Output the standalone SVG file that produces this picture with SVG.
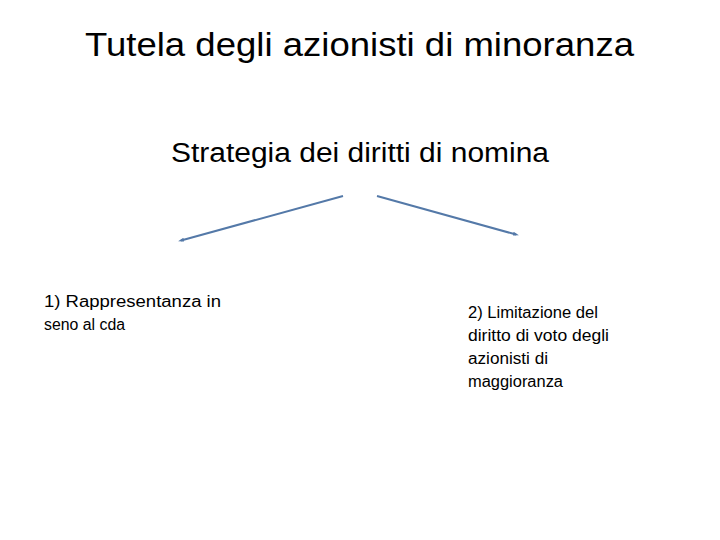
<svg xmlns="http://www.w3.org/2000/svg" width="720" height="540" viewBox="0 0 720 540">
<style>
.t{font-family:"Liberation Sans",Arial,sans-serif;fill:#000}
.s{font-size:16px}
.c{stroke:#5479a8;stroke-width:2;fill:none;marker-end:url(#a)}
</style>
<defs>
<marker id="a" markerWidth="6" markerHeight="5" refX="3" refY="2.5" orient="auto" markerUnits="userSpaceOnUse"><path d="M0,0.5L6,2.5L0,4.5z" fill="#5479a8"/></marker>
</defs>
<rect width="720" height="540" fill="#fff"/>
<g id="title"><text class="t" x="85" y="56" font-size="34" textLength="549" lengthAdjust="spacingAndGlyphs">Tutela degli azionisti di minoranza</text></g>
<g id="root"><text class="t" x="171" y="162" font-size="27" textLength="378" lengthAdjust="spacingAndGlyphs">Strategia dei diritti di nomina</text></g>
<g id="connectors">
<line class="c" x1="343" y1="196" x2="181" y2="240.5"/>
<line class="c" x1="377" y1="196" x2="516" y2="234.5"/>
</g>
<g id="left"><text class="t s"><tspan x="44" y="307" textLength="177" lengthAdjust="spacingAndGlyphs">1) Rappresentanza in</tspan><tspan x="44" y="330" textLength="81" lengthAdjust="spacingAndGlyphs">seno al cda</tspan></text></g>
<g id="right"><text class="t s"><tspan x="468" y="318" textLength="130" lengthAdjust="spacingAndGlyphs">2) Limitazione del</tspan><tspan x="468" y="341" textLength="141" lengthAdjust="spacingAndGlyphs">diritto di voto degli</tspan><tspan x="468" y="364" textLength="80" lengthAdjust="spacingAndGlyphs">azionisti di</tspan><tspan x="468" y="387" textLength="95" lengthAdjust="spacingAndGlyphs">maggioranza</tspan></text></g>
</svg>
